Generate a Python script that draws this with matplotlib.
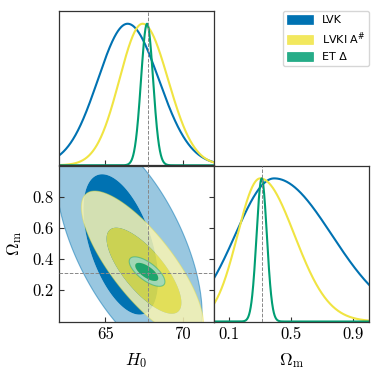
import numpy as np
import matplotlib
matplotlib.use('Agg')
import matplotlib.pyplot as plt
from matplotlib.patches import Patch
from matplotlib.font_manager import FontProperties

# ---------------- data ----------------
series_labels = ['LVK', r'LVKI A$^\#$', 'ET Δ']

# 1D marginals: peak position and lower / upper widths
h0_peak = [66.44, 67.41, 67.70]
h0_sig_lo = [1.92, 1.50, 0.39]
h0_sig_hi = [2.02, 1.65, 0.39]
om_peak = [0.39, 0.30, 0.31]
om_sig_lo = [0.25, 0.145, 0.033]
om_sig_hi = [0.37, 0.22, 0.033]

# 2D credible regions (68% and 95%): centre, half-extent, correlation
h0_c68 = [66.00, 67.50, 67.68]
om_c68 = [0.494, 0.3255, 0.318]
h0_w68 = [2.42, 2.42, 0.745]
om_w68 = [0.45, 0.2755, 0.058]
rho68 = [-0.50, -0.744, -0.69]

h0_c95 = [66.53, 67.40, 67.70]
om_c95 = [0.495, 0.36, 0.32]
h0_w95 = [4.73, 3.95, 1.155]
om_w95 = [0.737, 0.476, 0.0945]
rho95 = [-0.60, -0.782, -0.69]

h0_true = 67.74
om_true = 0.3089

h0_range = (62, 72)
om_range = (0, 1)
h0_ticks = [65, 70]
h0_ticklabels = ['65', '70']
om_ticks_2d = [0.2, 0.4, 0.6, 0.8]
om_ticklabels_2d = ['0.2', '0.4', '0.6', '0.8']
om_ticks_1d = [0.1, 0.5, 0.9]
om_ticklabels_1d = ['0.1', '0.5', '0.9']

# ---------------- style ----------------
colors = ['#0072B2', '#F0E442', '#009E73']
alphas = [1.0, 0.85, 0.85]
spine_col = '#333333'

plt.rcParams.update({
    'font.family': 'cmr10',
    'mathtext.fontset': 'cm',
    'axes.formatter.use_mathtext': True,
    'axes.unicode_minus': False,
})

fig = plt.figure(figsize=(3.8, 3.8), dpi=100)
L = 59 / 380
W1 = 154.5 / 380
B = 1 - 321.5 / 380
H1 = 156 / 380
ax_h = fig.add_axes([L, 1 - 165.3 / 380, W1, (165.3 - 11) / 380])
ax_2d = fig.add_axes([L, B, W1, H1])
ax_o = fig.add_axes([L + W1, B, (369 - 213.5) / 380, H1])

for ax in (ax_h, ax_2d, ax_o):
    for s in ax.spines.values():
        s.set_color(spine_col)
        s.set_linewidth(0.9)
    ax.tick_params(direction='in', length=3.6, width=0.8, color=spine_col,
                   labelsize=12, pad=4)


def split_gauss(x, peak, slo, shi):
    s = np.where(x < peak, slo, shi)
    return np.exp(-0.5 * ((x - peak) / s) ** 2)


def qform(X, Y, cx, cy, wx, wy, r):
    u = (X - cx) / wx
    v = (Y - cy) / wy
    return (u * u - 2 * r * u * v + v * v) / (1 - r * r)


def pale(c):
    rgb = np.array(matplotlib.colors.to_rgb(c))
    return tuple(rgb * 0.4 + 0.6)


# ---------------- 1D H0 ----------------
xh = np.linspace(h0_range[0], h0_range[1], 800)
for i in range(3):
    ax_h.plot(xh, split_gauss(xh, h0_peak[i], h0_sig_lo[i], h0_sig_hi[i]),
              color=colors[i], lw=1.5)
ax_h.axvline(h0_true, color='#888888', ls='--', lw=0.7, zorder=5)
ax_h.set_xlim(*h0_range)
ax_h.set_ylim(0, 1.09)
ax_h.set_yticks([])
ax_h.set_xticks(h0_ticks)
ax_h.tick_params(labelbottom=False)

# ---------------- 1D Om ----------------
xo = np.linspace(om_range[0], om_range[1], 800)
for i in range(3):
    ax_o.plot(xo, split_gauss(xo, om_peak[i], om_sig_lo[i], om_sig_hi[i]),
              color=colors[i], lw=1.5)
ax_o.axvline(om_true, color='#888888', ls='--', lw=0.7, zorder=5)
ax_o.set_xlim(*om_range)
ax_o.set_ylim(0, 1.09)
ax_o.set_yticks([])
ax_o.set_xticks(om_ticks_1d)
ax_o.set_xticklabels(om_ticklabels_1d)
ax_o.set_xlabel(r'$\Omega_{\rm m}$', fontsize=12.5, labelpad=6)

# ---------------- 2D ----------------
gx = np.linspace(61.0, 73.0, 1400)
gy = np.linspace(-0.1, 1.1, 1400)
X, Y = np.meshgrid(gx, gy)
k = 50.0
for i in range(3):
    F = 1 - qform(X, Y, h0_c95[i], om_c95[i], h0_w95[i], om_w95[i], rho95[i])
    G = 1 - qform(X, Y, h0_c68[i], om_c68[i], h0_w68[i], om_w68[i], rho68[i])
    Z = np.maximum(np.minimum(F, 0.5), 1 + k * G)
    ax_2d.contourf(X, Y, Z, levels=[0, 1, k + 2],
                   colors=[pale(colors[i]), colors[i]], alpha=alphas[i],
                   antialiased=True, zorder=1 + i)
    ax_2d.contour(X, Y, F, levels=[0], colors=[colors[i]],
                  linewidths=0.8, alpha=0.5 * alphas[i], zorder=1 + i)
ax_2d.axvline(h0_true, color='#888888', ls='--', lw=0.7, zorder=10)
ax_2d.axhline(om_true, color='#888888', ls='--', lw=0.7, zorder=10)
ax_2d.set_xlim(*h0_range)
ax_2d.set_ylim(*om_range)
ax_2d.set_xticks(h0_ticks)
ax_2d.set_xticklabels(h0_ticklabels)
ax_2d.set_yticks(om_ticks_2d)
ax_2d.set_yticklabels(om_ticklabels_2d)
ax_2d.tick_params(right=True)
ax_2d.set_xlabel(r'$H_0$', fontsize=12.5, labelpad=6)
ax_2d.set_ylabel(r'$\Omega_{\rm m}$', fontsize=12.5, labelpad=6)

# ---------------- legend ----------------
handles = [Patch(facecolor=colors[i], edgecolor=colors[i], alpha=alphas[i], lw=0.5)
           for i in range(3)]
leg_font = FontProperties(family='DejaVu Sans', size=8, math_fontfamily='dejavusans')
fig.legend(handles, series_labels, loc='upper right',
           bbox_to_anchor=(369 / 380, 1 - 10.7 / 380), borderaxespad=0,
           prop=leg_font, handlelength=2.3, handleheight=0.9,
           handletextpad=0.8, borderpad=0.35, labelspacing=0.45)

fig.savefig('out.png', dpi=100)
